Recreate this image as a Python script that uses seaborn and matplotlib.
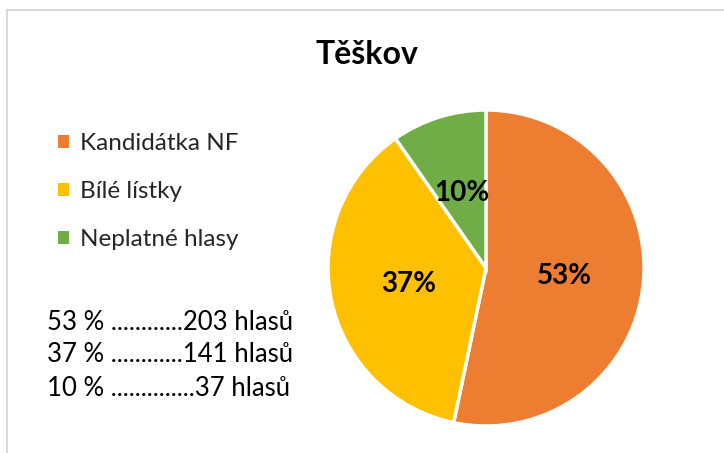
import matplotlib
matplotlib.use("Agg")
import matplotlib.pyplot as plt
import matplotlib.patches as mpatches
import seaborn as sns

# data
categories = ["Kandidátka NF", "Bílé lístky", "Neplatné hlasy"]
votes = [203, 141, 37]
percents = [53, 37, 10]
dot_leaders = ["............", "............", ".............."]
title = "Těškov"

sns.set_theme(style="white")
plt.rcParams['font.family'] = ['Lato', 'DejaVu Sans']
colors = sns.color_palette(["#ED7D31", "#FFC000", "#70AD47"])

fig = plt.figure(figsize=(7.24, 4.53), dpi=100)

# pie axes: square box centred where the reference pie sits
ax = fig.add_axes([328 / 724, 27 / 453, 316 / 724, 316 / 453])
wedges, texts, autotexts = ax.pie(
    votes,
    colors=colors,
    startangle=90,
    counterclock=False,
    autopct=lambda p: f"{p:.0f}%",
    pctdistance=0.5,
    wedgeprops=dict(edgecolor="white", linewidth=2.5),
    textprops=dict(fontsize=20, fontweight="bold", color="black"),
)
ax.set_xlim(-1, 1)
ax.set_ylim(-1, 1)
ax.set_aspect("equal")
for w in wedges:
    w.set_clip_on(False)

fig.text(0.5 + 5 / 724, 1 - 54 / 453, title, ha="center", va="center",
         fontsize=23, fontweight="bold", color="black")

# legend on the left
fig.legend(wedges, categories, loc="upper left",
           bbox_to_anchor=(58 / 724, 1 - 133 / 453),
           frameon=False, fontsize=17.5,
           handlelength=0.45, handleheight=0.45, handletextpad=0.45,
           labelspacing=1.12, borderaxespad=0, borderpad=0)
for h in fig.legends[0].legend_handles:
    h.set_edgecolor("none")

# vote counts under the legend
for i, (p, d, v) in enumerate(zip(percents, dot_leaders, votes)):
    fig.text(47 / 724, 1 - (322 + 33 * i) / 453, f"{p} % {d}{v} hlasů",
             ha="left", va="center", fontsize=18.5, color="black")

# light grey chart frame (only top and left edge are inside the crop)
frame = mpatches.Rectangle((7 / 724, -0.2), 1.2, 1 + 0.2 - 9.5 / 453,
                           transform=fig.transFigure, fill=False,
                           edgecolor="#D9D9D9", linewidth=1.5, clip_on=False)
fig.patches.append(frame)

fig.savefig("out.png", dpi=100)
